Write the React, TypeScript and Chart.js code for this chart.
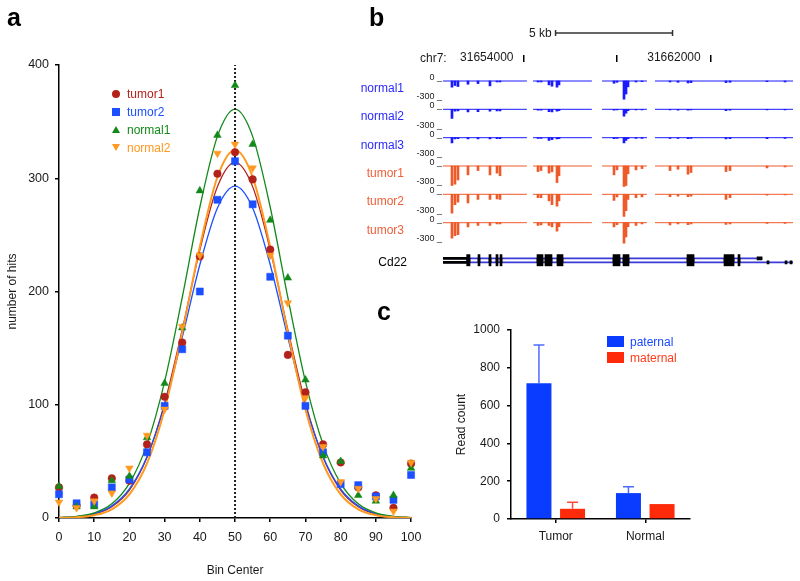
import React, { useEffect, useRef } from "react";
import { Chart, registerables } from "chart.js";

Chart.register(...registerables);

const FONT = '"Liberation Sans", Arial, Helvetica, sans-serif';
Chart.defaults.font.family = FONT;
Chart.defaults.color = "#1a1a1a";

// ---------------- Panel a: hits per bin ----------------
const binCenters = [0, 5, 10, 15, 20, 25, 30, 35, 40, 45, 50, 55, 60, 65, 70, 75, 80, 85, 90, 95, 100];
const tumor1Hits = [27, 11, 18, 35, 33, 65, 107, 155, 231, 304, 323, 299, 237, 144, 111, 65, 49, 27, 20, 9, 48];
const tumor2Hits = [21, 13, 12, 27, 34, 58, 99, 149, 200, 281, 315, 277, 213, 161, 99, 58, 30, 29, 19, 16, 38];
const normal1Hits = [28, 10, 10, 33, 37, 71, 119, 168, 289, 338, 382, 330, 263, 212, 122, 55, 50, 20, 15, 20, 44];
const normal2Hits = [14, 9, 15, 22, 44, 73, 96, 169, 232, 322, 330, 309, 232, 190, 106, 63, 32, 26, 17, 6, 49];
// fitted (Gaussian) curves, read at each bin centre
const fitTumor1 = [0.3, 1.0, 3.4, 9.9, 24.7, 53.7, 101.4, 166.2, 236.7, 292.6, 314, 292.6, 236.7, 166.2, 101.4, 53.7, 24.7, 9.9, 3.4, 1.0, 0.3];
const fitTumor2 = [0.3, 1.2, 3.9, 10.7, 25.7, 54.1, 99.4, 159.5, 223.6, 273.8, 293, 273.8, 223.6, 159.5, 99.4, 54.1, 25.7, 10.7, 3.9, 1.2, 0.3];
const fitNormal1 = [0.4, 1.4, 4.5, 12.5, 30.6, 65, 120.5, 194.7, 274.4, 337, 361, 337, 274.4, 194.7, 120.5, 65, 30.6, 12.5, 4.5, 1.4, 0.4];
const fitNormal2 = [0.2, 0.7, 2.5, 7.7, 20.9, 48.3, 95.9, 163.6, 239.5, 301.1, 325, 301.1, 239.5, 163.6, 95.9, 48.3, 20.9, 7.7, 2.5, 0.7, 0.2];
const centerBin = 50;
const hitsMax = 400;

const seriesA = [
  { label: "tumor1", hits: tumor1Hits, fit: fitTumor1, color: "#b3211b", style: "circle", radius: 3.8, rotation: 0, fitWidth: 1.3, order: 3 },
  { label: "tumor2", hits: tumor2Hits, fit: fitTumor2, color: "#1b4fff", style: "rect", radius: 5, rotation: 0, fitWidth: 1.3, order: 2 },
  { label: "normal1", hits: normal1Hits, fit: fitNormal1, color: "#13891a", style: "triangle", radius: 4.4, rotation: 0, fitWidth: 1.3, order: 1 },
  { label: "normal2", hits: normal2Hits, fit: fitNormal2, color: "#ff9920", style: "triangle", radius: 4.4, rotation: 180, fitWidth: 2, order: 0 },
];

// ---------------- Panel b: genome browser ----------------
const chrStart = 31650560;
const chrEnd = 31665370;
const coordTicks = [31654000, 31658000, 31662000];
const coordTickLabels = ["31654000", "", "31662000"];
const scaleBarStart = 31655371;
const scaleBarEnd = 31660371;
const trackNames = ["normal1", "normal2", "normal3", "tumor1", "tumor2", "tumor3"];
const peakPositions = [
  31650940, 31651067, 31651194, 31651617, 31652041, 31652548, 31652845, 31652972, 31654580, 31654707,
  31655045, 31655172, 31655384, 31655469, 31657796, 31657923, 31658219, 31658304, 31658389, 31658727,
  31658981, 31660166, 31660505, 31660928, 31661055, 31662536, 31662705, 31664271, 31665033,
];
const normal1Cov = [-95, -70, -85, -50, -40, -75, -15, -15, -15, -15, -60, -80, -95, -60, -35, -20, -280, -200, -90, -15, -10, -15, -20, -30, -25, -25, -20, -10, -15];
const normal2Cov = [-140, -30, -25, -40, -35, -30, -25, -25, -15, -15, -35, -40, -30, -20, -15, -10, -105, -60, -20, -10, -10, -10, -15, -15, -10, -20, -15, -10, -10];
const normal3Cov = [-80, -20, -15, -20, -20, -20, -15, -15, -10, -10, -40, -30, -20, -15, -15, -10, -80, -40, -15, -10, -10, -10, -10, -15, -10, -20, -15, -15, -10];
const tumor1Cov = [-300, -280, -215, -137, -70, -137, -110, -150, -86, -70, -110, -90, -255, -150, -137, -60, -315, -300, -120, -60, -40, -70, -50, -127, -100, -86, -70, -30, -15];
const tumor2Cov = [-290, -158, -120, -131, -79, -79, -70, -79, -53, -50, -100, -158, -184, -100, -95, -40, -342, -250, -80, -53, -40, -37, -30, -37, -30, -79, -50, -15, -10];
const tumor3Cov = [-237, -200, -184, -63, -42, -40, -20, -20, -42, -35, -40, -63, -132, -60, -63, -30, -316, -220, -60, -40, -20, -35, -20, -30, -20, -26, -20, -10, -10];
const coverageSegments = [
  [31650560, 31654110],
  [31654370, 31656860],
  [31657290, 31659190],
  [31659530, 31665370],
];
const covTicks = [-300, 0];
const covTickLabels = ["-300 _", "0 _"];
// Cd22 gene model
const exonStarts = [31651562, 31652041, 31652506, 31652802, 31652972, 31654537, 31654876, 31655384, 31657754, 31658177, 31660885, 31662451, 31663044];
const exonEnds = [31651702, 31652125, 31652591, 31652887, 31653056, 31654791, 31655172, 31655638, 31658050, 31658431, 31661182, 31662875, 31663128];
const utrStart = 31650560;
const utrEnd = 31651562;
const upperTxEnd = 31664060;
const lowerTxEnd = 31665370;
const upperTailStarts = [31663848];
const upperTailEnds = [31664060];
const lowerTailStarts = [31664271, 31665033, 31665244];
const lowerTailEnds = [31664356, 31665117, 31665329];

// ---------------- Panel c: allele read counts ----------------
const groups = ["Tumor", "Normal"];
const paternalReads = [718, 137];
const paternalErr = [202, 34];
const maternalReads = [54, 79];
const maternalErr = [34, 0];

// ---------------- helpers ----------------
function ChartCanvas({ left, top, width, height, make }: any) {
  const ref = useRef<HTMLCanvasElement>(null);
  useEffect(() => {
    const chart = new Chart(ref.current as HTMLCanvasElement, make());
    return () => chart.destroy();
  }, []);
  return (
    <canvas
      ref={ref}
      width={width}
      height={height}
      style={{ position: "absolute", left, top, width, height }}
    />
  );
}

function Label({ x, y, text, size = 12, color = "#1a1a1a", align = "left", weight = 400 }: any) {
  const tx = align === "left" ? "0" : align === "right" ? "-100%" : "-50%";
  return (
    <div
      style={{
        position: "absolute",
        left: x,
        top: y,
        transform: `translate(${tx}, -50%)`,
        fontSize: size,
        lineHeight: 1,
        color,
        fontWeight: weight,
        whiteSpace: "nowrap",
        fontFamily: FONT,
      }}
    >
      {text}
    </div>
  );
}

const noPlugins = { legend: { display: false }, tooltip: { enabled: false } };

// ---------------- panel a config ----------------
function makePanelA() {
  const datasets: any[] = [];
  seriesA.forEach((s) => {
    datasets.push({
      type: "scatter",
      label: s.label,
      data: binCenters.map((x, i) => ({ x, y: s.hits[i] })),
      pointStyle: s.style,
      pointRadius: s.radius,
      pointRotation: s.rotation,
      pointBackgroundColor: s.color,
      pointBorderColor: s.color,
      pointBorderWidth: 0.5,
      showLine: false,
      clip: false,
      order: s.order,
    });
  });
  seriesA.forEach((s) => {
    datasets.push({
      type: "line",
      label: s.label + " fit",
      data: binCenters.map((x, i) => ({ x, y: s.fit[i] })),
      borderColor: s.color,
      borderWidth: s.fitWidth,
      pointRadius: 0,
      cubicInterpolationMode: "monotone",
      fill: false,
      order: 10 + s.order,
    });
  });
  datasets.push({
    type: "line",
    label: "centre",
    data: [
      { x: centerBin, y: 0 },
      { x: centerBin, y: hitsMax },
    ],
    borderColor: "#222",
    borderWidth: 2,
    borderDash: [2, 2],
    pointRadius: 0,
    order: 5,
  });
  const axisGrid = { display: true, drawOnChartArea: false, drawTicks: true, tickLength: 4, color: "#000", lineWidth: 1.5 };
  return {
    type: "scatter",
    data: { datasets },
    options: {
      responsive: false,
      animation: false,
      layout: { padding: { top: 65, right: 16, left: 0, bottom: 0 } },
      plugins: noPlugins,
      scales: {
        x: {
          type: "linear",
          min: 0,
          max: 100,
          ticks: { stepSize: 10, font: { size: 12.5 }, color: "#1a1a1a", padding: 8.5, maxRotation: 0 },
          grid: axisGrid,
          border: { display: true, color: "#000", width: 1.5 },
          title: { display: true, text: "Bin Center", font: { size: 12 }, color: "#1a1a1a", padding: { top: 0, bottom: 3 } },
          afterFit: (s: any) => {
            s.height = 63;
          },
        },
        y: {
          type: "linear",
          min: 0,
          max: hitsMax,
          ticks: { stepSize: 100, font: { size: 12.5 }, color: "#1a1a1a", padding: 6 },
          grid: axisGrid,
          border: { display: true, color: "#000", width: 1.5 },
          title: { display: true, text: "number of hits", font: { size: 12 }, color: "#1a1a1a", padding: { top: 5.8, bottom: 0 } },
          afterFit: (s: any) => {
            s.width = 59;
          },
        },
      },
    },
  };
}

// ---------------- panel b configs ----------------
const TRACK_K = 19.5 / 300; // px per read
const TRACK_MIN = -400;
const TRACK_MAX = 60;

function trackGeom(baseline: number) {
  const areaTop = baseline - TRACK_MAX * TRACK_K;
  const areaH = (TRACK_MAX - TRACK_MIN) * TRACK_K;
  const top = Math.floor(areaTop - 8);
  const padTop = areaTop - top;
  const height = Math.ceil(padTop + areaH + 8);
  const padBottom = height - padTop - areaH;
  return { top, height, padTop, padBottom };
}

function makeTrack(cov: number[], color: string, padTop: number, padBottom: number) {
  const baseline: any[] = [];
  coverageSegments.forEach(([s, e]) => {
    baseline.push({ x: s, y: 0 }, { x: e, y: 0 }, { x: e + 1, y: null });
  });
  return {
    type: "bar",
    data: {
      datasets: [
        {
          type: "bar",
          data: peakPositions.map((x, i) => ({ x, y: cov[i] })),
          backgroundColor: color,
          borderWidth: 0,
          barThickness: 2,
          order: 1,
        },
        {
          type: "line",
          data: baseline,
          borderColor: color,
          borderWidth: 1,
          pointRadius: 0,
          spanGaps: false,
          order: 0,
        },
      ],
    },
    options: {
      responsive: false,
      animation: false,
      plugins: noPlugins,
      layout: { padding: { left: 0, right: 2, top: padTop, bottom: padBottom } },
      scales: {
        x: { type: "linear", min: chrStart, max: chrEnd, offset: false, display: false },
        y: {
          type: "linear",
          min: TRACK_MIN,
          max: TRACK_MAX,
          afterBuildTicks: (s: any) => {
            s.ticks = covTicks.map((v) => ({ value: v }));
          },
          ticks: {
            autoSkip: false,
            callback: (v: any) => covTickLabels[covTicks.indexOf(v)],
            font: { size: 9 },
            color: "#222",
            padding: 1,
            labelOffset: -3.5,
          },
          grid: { display: false, drawTicks: false },
          border: { display: false },
          afterFit: (s: any) => {
            s.width = 38;
          },
        },
      },
    },
  };
}

function makeRuler() {
  return {
    type: "line",
    data: {
      datasets: [
        {
          data: [
            { x: scaleBarStart, y: 0.75 },
            { x: scaleBarEnd, y: 0.75 },
          ],
          borderColor: "#333",
          borderWidth: 1.5,
          pointStyle: "line",
          pointRotation: 90,
          pointRadius: 3,
          pointBorderColor: "#333",
          pointBorderWidth: 1.5,
        },
      ],
    },
    options: {
      responsive: false,
      animation: false,
      plugins: noPlugins,
      layout: { padding: { left: 38, right: 2, top: 4, bottom: 0 } },
      scales: {
        x: {
          type: "linear",
          min: chrStart,
          max: chrEnd,
          offset: false,
          afterBuildTicks: (s: any) => {
            s.ticks = coordTicks.map((v) => ({ value: v }));
          },
          ticks: {
            autoSkip: false,
            maxRotation: 0,
            mirror: true,
            callback: (v: any) => coordTickLabels[coordTicks.indexOf(v)],
            align: "end",
            labelOffset: -10,
            padding: -9.7,
            font: { size: 12 },
            color: "#1a1a1a",
          },
          grid: { display: true, drawOnChartArea: false, drawTicks: true, tickLength: 7, color: "#000", lineWidth: 1.5 },
          border: { display: false },
          afterFit: (s: any) => {
            s.height = 15;
          },
        },
        y: { display: false, min: 0, max: 1 },
      },
    },
  };
}

function makeGene() {
  const UPPER = 2;
  const LOWER = 1;
  const exonData: any[] = [];
  exonStarts.forEach((s, i) => {
    exonData.push({ y: UPPER, x: [s, exonEnds[i]] }, { y: LOWER, x: [s, exonEnds[i]] });
  });
  const tailData: any[] = [];
  upperTailStarts.forEach((s, i) => tailData.push({ y: UPPER, x: [s, upperTailEnds[i]] }));
  lowerTailStarts.forEach((s, i) => tailData.push({ y: LOWER, x: [s, lowerTailEnds[i]] }));
  return {
    type: "bar",
    data: {
      datasets: [
        {
          data: [
            { y: UPPER, x: [utrStart, upperTxEnd] },
            { y: LOWER, x: [utrStart, lowerTxEnd] },
          ],
          backgroundColor: "#3a3ad8",
          barThickness: 1,
          grouped: false,
          borderWidth: 0,
          order: 4,
        },
        {
          data: [
            { y: UPPER, x: [utrStart, utrEnd] },
            { y: LOWER, x: [utrStart, utrEnd] },
          ],
          backgroundColor: "#000",
          barThickness: 2,
          grouped: false,
          borderWidth: 0,
          order: 3,
        },
        { data: tailData, backgroundColor: "#000", barThickness: 3, grouped: false, borderWidth: 0, order: 2 },
        { data: exonData, backgroundColor: "#000", barThickness: 8, grouped: false, borderWidth: 0, order: 1 },
      ],
    },
    options: {
      indexAxis: "y",
      responsive: false,
      animation: false,
      plugins: noPlugins,
      layout: { padding: { left: 38, right: 2, top: 4.3, bottom: 3.7 } },
      scales: {
        x: { type: "linear", min: chrStart, max: chrEnd, offset: false, display: false },
        y: { type: "linear", min: 0, max: 3, offset: false, display: false },
      },
    },
  };
}

// ---------------- panel c config ----------------
const errorBarPlugin = {
  id: "errorBars",
  afterDatasetsDraw(chart: any) {
    const ctx = chart.ctx;
    const yScale = chart.scales.y;
    chart.data.datasets.forEach((ds: any, di: number) => {
      const errs = ds.errors;
      if (!errs) return;
      const meta = chart.getDatasetMeta(di);
      meta.data.forEach((bar: any, i: number) => {
        const e = errs[i];
        if (!e) return;
        const yTop = yScale.getPixelForValue(ds.data[i] + e);
        ctx.save();
        ctx.strokeStyle = ds.errorColor;
        ctx.lineWidth = 1.5;
        ctx.beginPath();
        ctx.moveTo(bar.x, bar.y);
        ctx.lineTo(bar.x, yTop);
        ctx.moveTo(bar.x - 5.5, yTop);
        ctx.lineTo(bar.x + 5.5, yTop);
        ctx.stroke();
        ctx.restore();
      });
    });
  },
};

function makePanelC() {
  const grid = { display: true, drawOnChartArea: false, drawTicks: true, tickLength: 4, color: "#000", lineWidth: 1.5, offset: false };
  return {
    type: "bar",
    data: {
      labels: groups,
      datasets: [
        {
          label: "paternal",
          data: paternalReads,
          errors: paternalErr,
          errorColor: "#4d6bff",
          backgroundColor: "#0a3cff",
          categoryPercentage: 0.751,
          barPercentage: 0.744,
          borderWidth: 0,
        },
        {
          label: "maternal",
          data: maternalReads,
          errors: maternalErr,
          errorColor: "#ff4a3a",
          backgroundColor: "#ff2a0a",
          categoryPercentage: 0.751,
          barPercentage: 0.744,
          borderWidth: 0,
        },
      ],
    },
    options: {
      responsive: false,
      animation: false,
      plugins: noPlugins,
      layout: { padding: { top: 40, right: 20, left: 0, bottom: 0 } },
      scales: {
        x: {
          grid,
          border: { display: true, color: "#000", width: 1.5 },
          ticks: { padding: 6.8, font: { size: 12 }, color: "#1a1a1a" },
          afterFit: (s: any) => {
            s.height = 31;
          },
        },
        y: {
          min: 0,
          max: 1000,
          ticks: { stepSize: 200, padding: 7, font: { size: 12 }, color: "#1a1a1a", callback: (v: any) => String(v) },
          grid,
          border: { display: true, color: "#000", width: 1.5 },
          title: { display: true, text: "Read count", font: { size: 12 }, color: "#1a1a1a", padding: { top: 14.8, bottom: 0 } },
          afterFit: (s: any) => {
            s.width = 71;
          },
        },
      },
    },
    plugins: [errorBarPlugin],
  };
}

// ---------------- App ----------------
const trackBaselines = [81, 109.3, 137.7, 166, 194.3, 222.7];
const trackCov = [normal1Cov, normal2Cov, normal3Cov, tumor1Cov, tumor2Cov, tumor3Cov];
const trackColors = ["#1a1aff", "#1a1aff", "#1a1aff", "#ef5a2a", "#ef5a2a", "#ef5a2a"];
const trackLabelColors = ["#2a2aff", "#2a2aff", "#2a2aff", "#f0603a", "#f0603a", "#f0603a"];

function Marker({ kind, color, x, y }: any) {
  const base: any = { position: "absolute" };
  if (kind === "circle")
    return <div style={{ ...base, left: x - 4, top: y - 4, width: 8, height: 8, borderRadius: 4, background: color }} />;
  if (kind === "rect") return <div style={{ ...base, left: x - 3.8, top: y - 3.8, width: 7.6, height: 7.6, background: color }} />;
  if (kind === "up")
    return (
      <div
        style={{ ...base, left: x - 4.2, top: y - 4, width: 0, height: 0, borderLeft: "4.2px solid transparent", borderRight: "4.2px solid transparent", borderBottom: `7.5px solid ${color}` }}
      />
    );
  return (
    <div
      style={{ ...base, left: x - 4.2, top: y - 3.5, width: 0, height: 0, borderLeft: "4.2px solid transparent", borderRight: "4.2px solid transparent", borderTop: `7.5px solid ${color}` }}
    />
  );
}

export default function App() {
  const legendA = [
    { kind: "circle", y: 94 },
    { kind: "rect", y: 112 },
    { kind: "up", y: 130 },
    { kind: "down", y: 147.5 },
  ];
  return (
    <div style={{ position: "absolute", left: 0, top: 0, width: 800, height: 581, background: "#fff", fontFamily: FONT, overflow: "hidden" }}>
      {/* panel a */}
      <ChartCanvas left={0} top={0} width={430} height={581} make={makePanelA} />
      {seriesA.map((s, i) => (
        <React.Fragment key={s.label}>
          <Marker kind={legendA[i].kind} color={s.color} x={116} y={legendA[i].y} />
          <Label x={127} y={legendA[i].y} text={s.label} size={12} color={s.color} />
        </React.Fragment>
      ))}
      <Label x={7} y={17.3} text="a" size={25} weight={700} color="#000" />

      {/* panel b */}
      <Label x={369} y={17.3} text="b" size={25} weight={700} color="#000" />
      <ChartCanvas left={405} top={20} width={390} height={50} make={makeRuler} />
      <Label x={529} y={32.5} text="5 kb" size={12} />
      <Label x={420} y={57.8} text="chr7:" size={12} />
      {trackNames.map((name, i) => {
        const g = trackGeom(trackBaselines[i]);
        return (
          <React.Fragment key={name}>
            <ChartCanvas
              left={405}
              top={g.top}
              width={390}
              height={g.height}
              make={() => makeTrack(trackCov[i], trackColors[i], g.padTop, g.padBottom)}
            />
            <Label x={404} y={trackBaselines[i] + 7} text={name} size={12} color={trackLabelColors[i]} align="right" />
          </React.Fragment>
        );
      })}
      <ChartCanvas left={405} top={250} width={390} height={20} make={makeGene} />
      <Label x={407} y={261.7} text="Cd22" size={12} color="#000" align="right" />

      {/* panel c */}
      <Label x={377} y={310.6} text="c" size={25} weight={700} color="#000" />
      <ChartCanvas left={440} top={290} width={270} height={260} make={makePanelC} />
      <div style={{ position: "absolute", left: 606.7, top: 335.7, width: 17.6, height: 11.6, background: "#0a3cff" }} />
      <div style={{ position: "absolute", left: 606.7, top: 351.7, width: 17.6, height: 11.6, background: "#ff2a0a" }} />
      <Label x={630} y={341.7} text="paternal" size={12} color="#1a4aff" />
      <Label x={630} y={357.7} text="maternal" size={12} color="#ff3a1a" />
    </div>
  );
}
